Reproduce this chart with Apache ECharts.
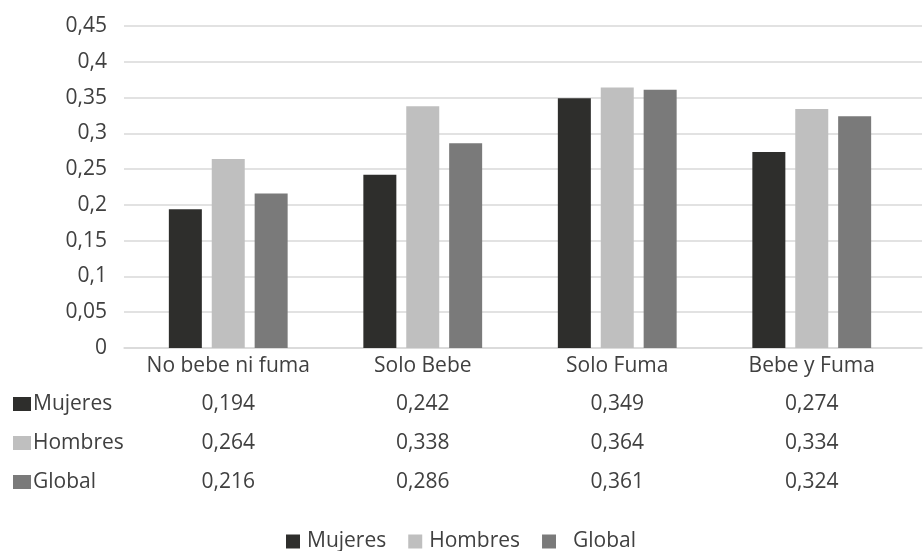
<!DOCTYPE html>
<html>
<head>
<meta charset="utf-8">
<script src="https://cdn.jsdelivr.net/npm/echarts@6/dist/echarts.min.js"></script>
<style>
  html, body { margin: 0; padding: 0; background: #fff; }
  #chart { width: 924px; height: 551px; }
</style>
</head>
<body>
<div id="chart"></div>
<script>
// Categories and series values
const categories = ['No bebe ni fuma', 'Solo Bebe', 'Solo Fuma', 'Bebe y Fuma'];
const seriesNames = ['Mujeres', 'Hombres', 'Global'];
const mujeres = [0.194, 0.242, 0.349, 0.274];
const hombres = [0.264, 0.338, 0.364, 0.334];
const globalVals = [0.216, 0.286, 0.361, 0.324];

const colors = ['#2e2e2c', '#bfbfbf', '#7a7a7a'];
const rows = [mujeres, hombres, globalVals];

const TEXT = '#404040';
const FONT = '"Open Sans", "Noto Sans", sans-serif';
const FS = 21;

const GRID_TOP = 26;
const PLOT_BOTTOM_Y = 348;          // pixel y of value 0
const GRID_BOTTOM = 551 - PLOT_BOTTOM_Y;
const CAT_MARGIN = 18;              // category label centre below the plot
const ROW_MARGINS = [56, 95, 134];  // data-table rows below the plot

const fmt = v => String(+v.toFixed(3)).replace('.', ',');

const chart = echarts.init(document.getElementById('chart'), null, { renderer: 'canvas' });

// Extra category axes that print the data-table rows under each category
const tableAxes = rows.map((vals, k) => ({
  type: 'category',
  gridIndex: 1,
  position: 'bottom',
  data: categories,
  axisLine: { show: false },
  axisTick: { show: false },
  splitLine: { show: false },
  axisLabel: {
    interval: 0,
    margin: ROW_MARGINS[k],
    verticalAlign: 'middle',
    color: TEXT,
    fontFamily: FONT,
    fontSize: FS,
    formatter: (v, i) => fmt(vals[i])
  }
}));

// Row headers of the data table (legend key + series name)
const rowHeaders = seriesNames.map((name, k) => {
  const cy = PLOT_BOTTOM_Y + ROW_MARGINS[k];
  return {
    type: 'group',
    children: [
      { type: 'rect', shape: { x: 13, y: cy - 7, width: 18, height: 14 }, style: { fill: colors[k] } },
      { type: 'text', x: 33, y: cy, style: { text: name, fill: TEXT, font: FS + 'px ' + FONT, textVerticalAlign: 'middle', verticalAlign: 'middle' } }
    ]
  };
});

chart.setOption({
  backgroundColor: '#ffffff',
  animation: false,
  textStyle: { fontFamily: FONT },
  grid: [
    // wide grid: gridlines, value labels and the bottom rule
    { left: 124, right: 2, top: GRID_TOP, bottom: GRID_BOTTOM },
    // bar grid
    { left: 131, right: 15, top: GRID_TOP, bottom: GRID_BOTTOM }
  ],
  legend: {
    data: seriesNames,
    left: 281,
    top: 526,
    itemWidth: 14,
    itemHeight: 14,
    itemGap: 22,
    icon: 'rect',
    formatter: name => name === 'Global' ? '{wide|' + name + '}' : name,
    textStyle: {
      color: TEXT, fontFamily: FONT, fontSize: FS,
      padding: [0, 0, 0, 2],
      rich: { wide: { color: TEXT, fontFamily: FONT, fontSize: FS, padding: [0, 0, 0, 10] } }
    }
  },
  xAxis: [
    {
      type: 'category',
      gridIndex: 0,
      data: categories,
      offset: 5,
      axisLine: { show: true, lineStyle: { color: '#d9d9d9', width: 1.5 } },
      axisTick: { show: false },
      axisLabel: { show: false }
    },
    {
      type: 'category',
      gridIndex: 1,
      data: categories,
      axisLine: { show: false },
      axisTick: { show: false },
      axisLabel: {
        interval: 0,
        margin: CAT_MARGIN,
        verticalAlign: 'middle',
        color: TEXT,
        fontFamily: FONT,
        fontSize: FS
      }
    }
  ].concat(tableAxes),
  yAxis: [
    {
      type: 'value',
      gridIndex: 0,
      min: 0,
      max: 0.45,
      interval: 0.05,
      axisLine: { show: false },
      axisTick: { show: false },
      splitLine: { lineStyle: { color: '#d9d9d9', width: 1.5 } },
      axisLabel: {
        margin: 17,
        color: TEXT,
        fontFamily: FONT,
        fontSize: FS,
        formatter: v => String(+v.toFixed(2)).replace('.', ',')
      }
    },
    {
      type: 'value',
      gridIndex: 1,
      min: 0,
      max: 0.45,
      interval: 0.05,
      show: false,
      splitLine: { show: false }
    }
  ],
  series: seriesNames.map((name, k) => ({
    name,
    type: 'bar',
    xAxisIndex: 1,
    yAxisIndex: 1,
    data: rows[k],
    barWidth: 33,
    barGap: '30%',
    itemStyle: { color: colors[k] }
  })),
  graphic: rowHeaders
});
</script>
</body>
</html>
